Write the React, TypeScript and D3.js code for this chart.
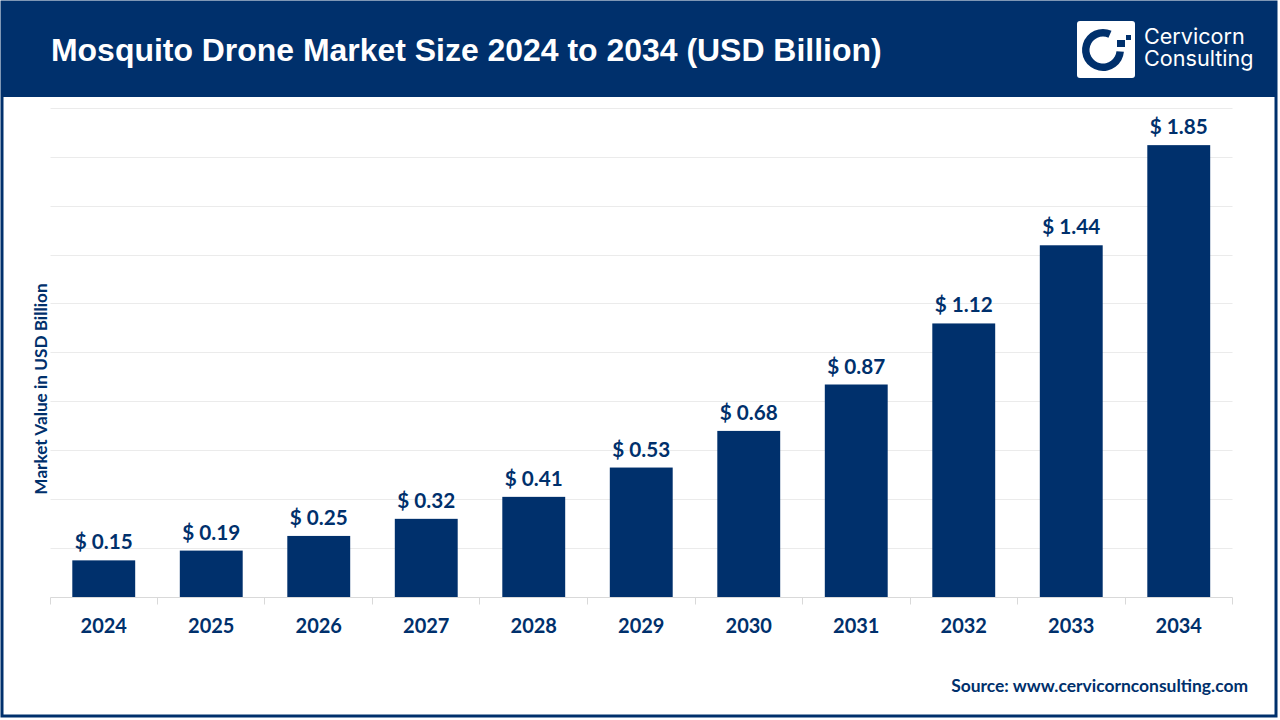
import {useRef, useEffect} from "react"
import * as d3 from "d3"

const years = ["2024", "2025", "2026", "2027", "2028", "2029", "2030", "2031", "2032", "2033", "2034"]
const values = [0.15, 0.19, 0.25, 0.32, 0.41, 0.53, 0.68, 0.87, 1.12, 1.44, 1.85]
const gridTicks = [0, 0.2, 0.4, 0.6, 0.8, 1.0, 1.2, 1.4, 1.6, 1.8, 2.0]

const navy = "#00306C"

export default function App() {
    const svgRef = useRef<SVGSVGElement>(null)

    useEffect(() => {
        if (!svgRef.current) return

        const width = 1280
        const height = 720
        const svg = d3.select(svgRef.current)
        svg.selectAll("*").remove()

        svg.append("rect").attr("width", width).attr("height", height).attr("fill", "#ffffff")

        // Frame and header
        svg.append("rect")
            .attr("x", 2).attr("y", 2).attr("width", 1274).attr("height", 714)
            .attr("fill", "#ffffff").attr("stroke", navy).attr("stroke-width", 3)
        svg.append("rect")
            .attr("x", 1).attr("y", 1).attr("width", 1276).attr("height", 96)
            .attr("fill", navy)

        svg.append("text")
            .attr("x", 51).attr("y", 61)
            .attr("font-family", "'Liberation Sans', Arial, sans-serif")
            .attr("font-weight", 700).attr("font-size", 31.95)
            .attr("fill", "#ffffff")
            .text("Mosquito Drone Market Size 2024 to 2034 (USD Billion)")

        // Logo
        svg.append("rect")
            .attr("x", 1077).attr("y", 21).attr("width", 58).attr("height", 57).attr("rx", 3)
            .attr("fill", "#ffffff")
        const ring = d3.arc()
        const logo = svg.append("g").attr("transform", "translate(1103,50)")
        logo.append("path")
            .attr("d", ring({innerRadius: 13.5, outerRadius: 21, startAngle: 1.66, endAngle: 6.7}) as string)
            .attr("fill", navy)
        logo.append("rect").attr("x", 14).attr("y", -10).attr("width", 8).attr("height", 7).attr("fill", navy)
        logo.append("rect").attr("x", 23).attr("y", -15).attr("width", 5).attr("height", 5).attr("fill", navy)
        const logoText = svg.append("g")
            .attr("font-family", "Inter, sans-serif")
            .attr("font-weight", 400).attr("font-size", 21.6)
            .attr("fill", "#ffffff")
        logoText.append("text").attr("x", 1144).attr("y", 44).text("Cervicorn")
        logoText.append("text").attr("x", 1144).attr("y", 66).text("Consulting")

        // Scales
        const xScale = d3.scaleBand<string>().domain(years).range([50, 1232.5]).paddingInner(0.415).paddingOuter(0.2075)
        const yScale = d3.scaleLinear().domain([0, 2]).range([597, 108.5])
        const crisp = (v: number) => Math.floor(v) + 0.5

        // Gridlines
        svg.append("g").selectAll("line")
            .data(gridTicks.slice(1))
            .join("line")
            .attr("x1", 50.5).attr("x2", 1232.5)
            .attr("y1", d => crisp(yScale(d))).attr("y2", d => crisp(yScale(d)))
            .attr("stroke", "#EBEBEB").attr("stroke-width", 1)

        // Bars
        svg.append("g").selectAll("rect")
            .data(values)
            .join("rect")
            .attr("x", (_, i) => xScale(years[i]) as number)
            .attr("y", d => yScale(d))
            .attr("width", xScale.bandwidth())
            .attr("height", d => yScale(0) - yScale(d))
            .attr("fill", navy)

        // X axis line with ticks between the categories
        const step = xScale.step()
        const edges = [50.5, ...years.map((y) => crisp((xScale(y) as number) + xScale.bandwidth() + (step - xScale.bandwidth()) / 2))]
        svg.append("line")
            .attr("x1", 50.5).attr("x2", 1232.5).attr("y1", 597.5).attr("y2", 597.5)
            .attr("stroke", "#D9D9D9")
        svg.append("g").selectAll("line")
            .data(edges)
            .join("line")
            .attr("x1", d => d).attr("x2", d => d)
            .attr("y1", 597.5).attr("y2", 604.5)
            .attr("stroke", "#D9D9D9")

        const labelFont = "Lato, 'Open Sans', sans-serif"

        // Value labels
        svg.append("g").selectAll("text")
            .data(values)
            .join("text")
            .attr("x", (_, i) => (xScale(years[i]) as number) + xScale.bandwidth() / 2)
            .attr("y", d => yScale(d) - 11)
            .attr("text-anchor", "middle")
            .attr("font-family", labelFont).attr("font-weight", 700).attr("font-size", 20.7)
            .attr("fill", navy)
            .text(d => `$ ${d.toFixed(2)}`)

        // Category labels
        svg.append("g").selectAll("text")
            .data(years)
            .join("text")
            .attr("x", d => (xScale(d) as number) + xScale.bandwidth() / 2)
            .attr("y", 632.5)
            .attr("text-anchor", "middle")
            .attr("font-family", labelFont).attr("font-weight", 700).attr("font-size", 20)
            .attr("fill", navy)
            .text(d => d)

        // Axis title
        svg.append("text")
            .attr("transform", "translate(46.5,389) rotate(-90)")
            .attr("text-anchor", "middle")
            .attr("font-family", labelFont).attr("font-weight", 700).attr("font-size", 17.2)
            .attr("fill", navy)
            .text("Market Value in USD Billion")

        // Source
        svg.append("text")
            .attr("x", 1248).attr("y", 692)
            .attr("text-anchor", "end")
            .attr("font-family", labelFont).attr("font-weight", 700).attr("font-size", 17.45)
            .attr("fill", navy)
            .text("Source: www.cervicornconsulting.com")
    }, [])

    return (
        <svg ref={svgRef} width={1280} height={720} style={{position: "absolute", left: 0, top: 0}} />
    )
}
